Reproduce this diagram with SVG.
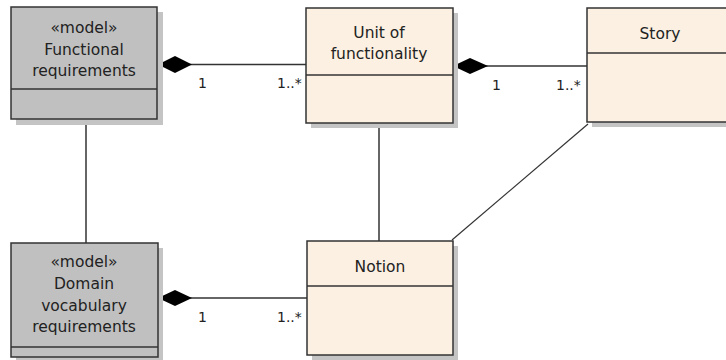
<svg xmlns="http://www.w3.org/2000/svg" width="726" height="360" viewBox="0 0 726 360">
<style>
.shadow{fill:#c4c4c4}
.gray{fill:#c0c0c0;stroke:#333;stroke-width:1.5}
.beige{fill:#fbf0e1;stroke:#333;stroke-width:1.5}
.div{stroke:#333;stroke-width:1.5}
.t{font-family:"DejaVu Sans",Verdana,sans-serif;font-size:15.5px;fill:#222;text-anchor:middle}
.m{font-family:"DejaVu Sans",Verdana,sans-serif;font-size:14px;fill:#222}
.ln{stroke:#333;stroke-width:1.5;fill:none}
.dia{fill:#000}
</style>
<g id="connectors">
<line class="ln" x1="158" y1="64.5" x2="306" y2="64.5"/>
<path class="dia" d="M158,64.5 L175,56 L192,64.5 L175,73 Z"/>
<line class="ln" x1="453" y1="66" x2="587" y2="66"/>
<path class="dia" d="M453,66 L470,58 L488,66 L470,74 Z"/>
<line class="ln" x1="158" y1="298" x2="307" y2="298"/>
<path class="dia" d="M158,298 L175,290 L192,298 L175,306 Z"/>
<line class="ln" x1="86" y1="119" x2="86" y2="243"/>
<line class="ln" x1="379" y1="123" x2="379" y2="241"/>
<line x1="588" y1="124" x2="452" y2="240" stroke="#333" stroke-width="1.2"/>
<text class="m" x="198" y="88">1</text>
<text class="m" x="277" y="88">1..*</text>
<text class="m" x="492" y="90">1</text>
<text class="m" x="556" y="90">1..*</text>
<text class="m" x="198" y="322">1</text>
<text class="m" x="277" y="322">1..*</text>
</g>
<g id="functional">
<rect class="shadow" x="16" y="12" width="147" height="113"/>
<rect class="gray" x="11" y="7" width="146" height="112"/>
<line class="div" x1="11" y1="89" x2="157" y2="89"/>
<text class="t" x="84" y="33">«model»</text>
<text class="t" x="84" y="55">Functional</text>
<text class="t" x="84" y="76">requirements</text>
</g>
<g id="unit">
<rect class="shadow" x="311" y="13" width="147" height="115"/>
<rect class="beige" x="306" y="8" width="147" height="115"/>
<line class="div" x1="306" y1="75" x2="453" y2="75"/>
<text class="t" x="379" y="38">Unit of</text>
<text class="t" x="379" y="59">functionality</text>
</g>
<g id="story">
<rect class="shadow" x="592" y="13" width="150" height="114"/>
<rect class="beige" x="587" y="8" width="150" height="114"/>
<line class="div" x1="587" y1="53" x2="737" y2="53"/>
<text class="t" x="660" y="39">Story</text>
</g>
<g id="domain">
<rect class="shadow" x="16" y="248" width="147" height="115"/>
<rect class="gray" x="11" y="243" width="147" height="114"/>
<line class="div" x1="11" y1="347" x2="158" y2="347"/>
<text class="t" x="84" y="267">«model»</text>
<text class="t" x="84" y="289">Domain</text>
<text class="t" x="84" y="311">vocabulary</text>
<text class="t" x="84" y="332">requirements</text>
</g>
<g id="notion">
<rect class="shadow" x="312" y="246" width="146" height="114"/>
<rect class="beige" x="307" y="241" width="146" height="114"/>
<line class="div" x1="307" y1="286" x2="453" y2="286"/>
<text class="t" x="380" y="272">Notion</text>
</g>
</svg>
